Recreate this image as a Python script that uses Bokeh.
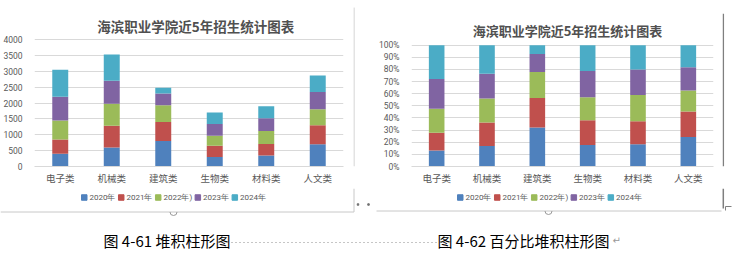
import math
from bokeh.plotting import figure
from bokeh.layouts import column, row
from bokeh.models import (ColumnDataSource, FactorRange, Range1d, FixedTicker,
                          NumeralTickFormatter, Label)
from bokeh.core.properties import value
from bokeh.embed import file_html
from bokeh.resources import INLINE

# Enrolment per department and year (students)
categories = ["电子类", "机械类", "建筑类", "生物类", "材料类", "人文类"]
years = ["2020年", "2021年", "2022年)", "2023年", "2024年"]
y2020 = [400, 600, 800, 300, 350, 700]
y2021 = [450, 680, 600, 350, 360, 600]
y2022 = [600, 700, 530, 320, 410, 500]
y2023 = [750, 720, 370, 370, 400, 550]
y2024 = [850, 830, 180, 360, 380, 520]

count_ticks = [0, 500, 1000, 1500, 2000, 2500, 3000, 3500, 4000]
share_ticks = [0, 0.1, 0.2, 0.3, 0.4, 0.5, 0.6, 0.7, 0.8, 0.9, 1.0]

title_text = "海滨职业学院近5年招生统计图表"
caption_left = "图 4-61 堆积柱形图"
caption_right = "图 4-62 百分比堆积柱形图"

colors = ["#4F81BD", "#C0504D", "#9BBB59", "#8064A2", "#4BACC6"]
GRID = "#D9D9D9"
TXT = "#595959"
EDGE = "#C8C8C8"
CJK = "Noto Sans CJK SC"

series = [y2020, y2021, y2022, y2023, y2024]
keys = ["s%d" % i for i in range(len(years))]

counts = {"cat": categories}
shares = {"cat": categories}
totals = [sum(v) for v in zip(*series)]
for k, s in zip(keys, series):
    counts[k] = s
    shares[k] = [v / t for v, t in zip(s, totals)]

CHART_H = 188
PAGE_W, PAGE_H = 733, 254


def chart(width, data, ticks, top_px, bottom_px, left, right, title_px, title_x, title_size):
    # the frame reaches the top of the canvas so the title can sit inside it;
    # the value axis is scaled so that the top tick lands at top_px
    span = ticks[-1] - ticks[0]
    y_end = span * bottom_px / (bottom_px - top_px)
    p = figure(width=width, height=CHART_H, x_range=FactorRange(*categories, range_padding=0),
               y_range=Range1d(0, y_end), output_backend="svg", toolbar_location=None,
               min_border_left=left, min_border_right=right,
               min_border_top=0, min_border_bottom=CHART_H - bottom_px)
    p.outline_line_color = None
    p.border_fill_color = "white"
    p.xgrid.grid_line_color = None
    p.ygrid.grid_line_color = GRID

    p.yaxis.ticker = FixedTicker(ticks=ticks)
    p.yaxis.axis_line_color = None
    p.yaxis.major_tick_line_color = None
    p.yaxis.minor_tick_line_color = None
    p.yaxis.major_label_text_font = "Roboto"
    p.yaxis.major_label_text_font_size = "8.5px"
    p.yaxis.major_label_text_color = TXT
    p.yaxis.major_label_standoff = 6

    p.xaxis.axis_line_color = GRID
    p.xaxis.major_tick_line_color = None
    p.xaxis.minor_tick_line_color = None
    p.xaxis.major_tick_out = 0
    p.xaxis.major_label_text_font = CJK
    p.xaxis.major_label_text_font_size = "9.5px"
    p.xaxis.major_label_text_color = TXT
    p.xaxis.major_label_standoff = 4

    p.vbar_stack(keys, x="cat", width=0.31, color=colors, line_color=None,
                 source=ColumnDataSource(data))

    title_y = span * (bottom_px - title_px) / (bottom_px - top_px)
    p.add_layout(Label(x=title_x, y=title_y, text=title_text, text_align="center",
                       text_baseline="middle", text_font=CJK, text_font_style="bold",
                       text_font_size=title_size, text_color="#505050"))
    return p


# Stacked column chart (absolute numbers)
left = chart(353, counts, count_ticks, 39, 166, 31, 10, 25, 3.13, "13.5px")

# 100% stacked column chart (shares)
right = chart(364, shares, share_ticks, 45, 167, 53, 9, 30, 3.10, "13px")
right.yaxis.formatter = NumeralTickFormatter(format="0%")


def strip(width, height):
    s = figure(width=width, height=height, x_range=Range1d(0, width),
               y_range=Range1d(height, 0), output_backend="svg",
               toolbar_location=None, min_border=0)
    s.axis.visible = False
    s.grid.visible = False
    s.outline_line_color = None
    return s


# right edges of the two chart boxes
sep1 = strip(5, CHART_H)
sep1.line([0.5, 0.5], [8, CHART_H], line_color=EDGE, line_width=1)
sep2 = strip(11, CHART_H)
sep2.line([0.8, 0.8], [15, CHART_H], line_color="#7F7F7F", line_width=1.5)

# lower strip: legends, box edges, captions (y measured downward in px)
low = strip(PAGE_W, PAGE_H - CHART_H)


def text_width(s, size):
    w = 0.0
    for ch in s:
        if ch.isdigit():
            w += 0.562 * size
        elif ch == ")":
            w += 0.33 * size
        else:
            w += size
    return w


def legend_row(x0, yc, size=8.0, box=5.5, gap=2.5, spacing=3.0):
    xs, tx = [], []
    x = x0
    for lab in years:
        xs.append(x + box / 2)
        tx.append(x + box + gap)
        x += box + gap + text_width(lab, size) + spacing
    low.rect(x=xs, y=[yc] * len(xs), width=box, height=box, color=colors)
    low.text(x=tx, y=[yc] * len(tx), text=years, text_baseline="middle",
             text_font=value("Roboto"), text_font_size="%gpx" % size, text_color=TXT)


legend_row(81, 9)
legend_row(457, 9)

edge_y = 23.5
low.line([353.5, 353.5], [0, edge_y], line_color=EDGE, line_width=1)
low.line([0, 353.5], [edge_y, edge_y], line_color=EDGE, line_width=1)
low.line([376, 721], [edge_y - 1, edge_y - 1], line_color=EDGE, line_width=1)
low.line([722.8, 722.8], [0, 20], line_color="#7F7F7F", line_width=1.5)
low.line([725, 725, 731], [22, 18, 18], line_color="#7F7F7F", line_width=1)

# selection handles on the box edges
low.arc(x=[173, 548], y=[edge_y, edge_y - 1], radius=3.5, start_angle=math.pi,
        end_angle=2 * math.pi, line_color="#9A9A9A", line_width=1)
low.rect(x=[357.5, 368], y=[16, 16], width=1.5, height=1.5, color="#707070")

low.add_layout(Label(x=103, y=52, text=caption_left, text_baseline="middle",
                     text_font=CJK, text_font_size="15px", text_color="black"))
low.line([231, 436], [54, 54], line_color="#8C8C8C", line_width=1, line_dash="1 3")
low.add_layout(Label(x=437, y=52, text=caption_right, text_baseline="middle",
                     text_font=CJK, text_font_size="15px", text_color="black"))
low.add_layout(Label(x=612, y=52, text="↵", text_baseline="middle",
                     text_font="DejaVu Sans", text_font_size="10px", text_color="#999999"))

layout = column(row(left, sep1, right, sep2, spacing=0), low, spacing=0)
open("out.html", "w").write(file_html(layout, INLINE))
